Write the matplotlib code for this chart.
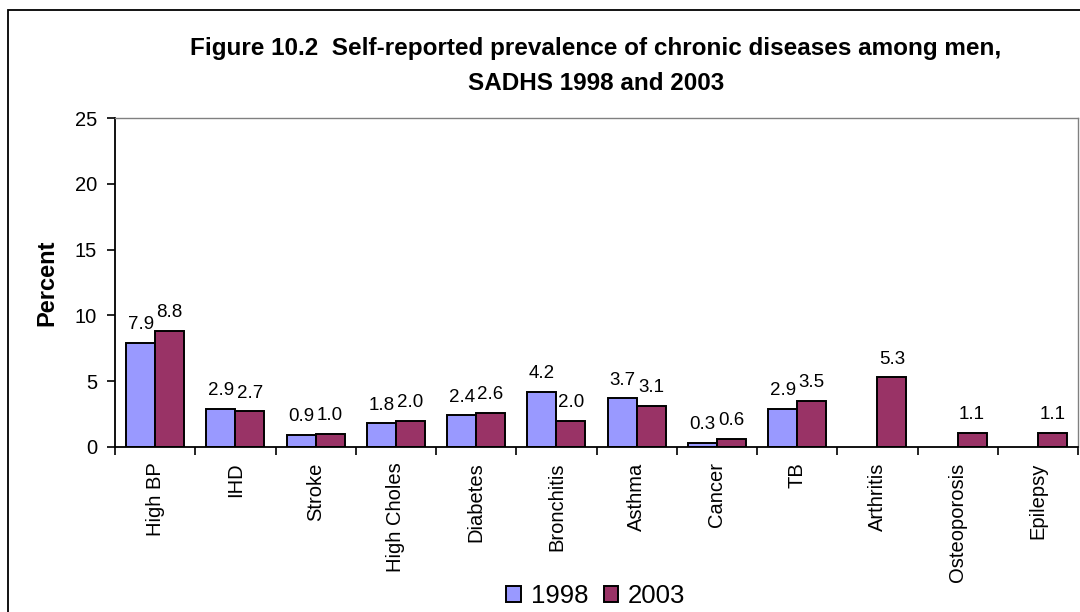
import matplotlib
matplotlib.use("Agg")
import matplotlib.pyplot as plt
import numpy as np
from matplotlib.patches import Rectangle

categories = ["High BP", "IHD", "Stroke", "High Choles", "Diabetes", "Bronchitis",
              "Asthma", "Cancer", "TB", "Arthritis", "Osteoporosis", "Epilepsy"]
vals_1998 = [7.9, 2.9, 0.9, 1.8, 2.4, 4.2, 3.7, 0.3, 2.9, None, None, None]
vals_2003 = [8.8, 2.7, 1.0, 2.0, 2.6, 2.0, 3.1, 0.6, 3.5, 5.3, 1.1, 1.1]
series_labels = ["1998", "2003"]
title = "Figure 10.2  Self-reported prevalence of chronic diseases among men,\nSADHS 1998 and 2003"

plt.rcParams['font.family'] = ['Liberation Sans', 'DejaVu Sans']

fig = plt.figure(figsize=(10.8, 6.12), dpi=100)
ax = fig.add_axes([115/1080, 1-447/612, (1078-115)/1080, (447-118)/612])

x = np.arange(len(categories))
w = 0.36
c1, c2 = "#9999FF", "#993366"
m1 = [v is not None for v in vals_1998]
xs1 = [xi - w/2 for xi, m in zip(x, m1) if m]
ys1 = [v for v, m in zip(vals_1998, m1) if m]
b1 = ax.bar(xs1, ys1, width=w, color=c1, edgecolor="black", linewidth=1.4, label=series_labels[0])
b2 = ax.bar(x + w/2, vals_2003, width=w, color=c2, edgecolor="black", linewidth=1.4, label=series_labels[1])

for xi, v in zip(xs1, ys1):
    ax.annotate(f"{v:.1f}", (xi, v), xytext=(0, 7), textcoords="offset points",
                ha="center", va="bottom", fontsize=13.5)
for xi, v in zip(x + w/2, vals_2003):
    ax.annotate(f"{v:.1f}", (xi, v), xytext=(0, 7), textcoords="offset points",
                ha="center", va="bottom", fontsize=13.5)

ax.set_xlim(-0.5, len(categories) - 0.5)
ax.set_ylim(0, 25)
ax.set_yticks([0, 5, 10, 15, 20, 25])
ax.tick_params(axis="y", labelsize=14.5, length=6, width=1.2, pad=7)
ax.set_xticks(x)
ax.set_xticklabels(categories, rotation=90, fontsize=14.5)
ax.tick_params(axis="x", which="major", length=0, pad=11)
ax.set_xticks(np.arange(len(categories) + 1) - 0.5, minor=True)
ax.tick_params(axis="x", which="minor", length=6, width=1.2)

for s in ["left", "bottom"]:
    ax.spines[s].set_color("black")
    ax.spines[s].set_linewidth(1.3)
for s in ["top", "right"]:
    ax.spines[s].set_color("#808080")
    ax.spines[s].set_linewidth(1.0)

ax.set_ylabel("Percent", fontsize=17, fontweight="bold", labelpad=12)

fig.text(596/1080, 1-66/612, title, ha="center", va="center", fontsize=17.5,
         fontweight="bold", linespacing=1.7)

leg = fig.legend(handles=[b1, b2], loc="center", bbox_to_anchor=(596/1080, 1-596/612),
                 ncol=2, frameon=False, fontsize=18.5, handlelength=0.55, handleheight=0.55,
                 handletextpad=0.4, columnspacing=0.6, borderpad=0)

fig.patches.append(Rectangle((8/1080, -0.2), 1.5, 1.2 - 10/612, transform=fig.transFigure,
                             fill=False, edgecolor="black", linewidth=1.3, clip_on=False))

fig.savefig("out.png", dpi=100)
